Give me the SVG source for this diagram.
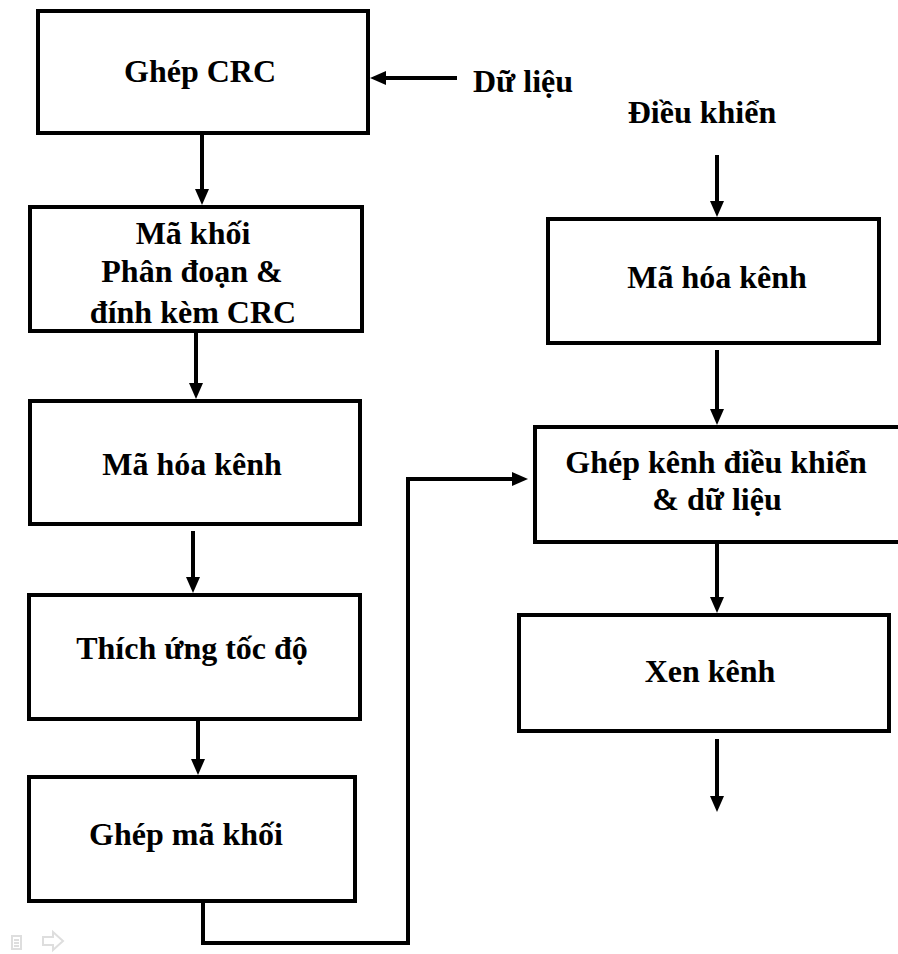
<svg xmlns="http://www.w3.org/2000/svg" width="898" height="954" viewBox="0 0 898 954">
  <defs>
    <marker id="head" markerUnits="userSpaceOnUse" markerWidth="17" markerHeight="14" refX="0" refY="7" orient="auto">
      <path d="M0,0 L16,7 L0,14 z" fill="#000"/>
    </marker>
    <style>
      .box { fill: #fff; stroke: #000; stroke-width: 4; }
      .lbl { font-family: "Liberation Serif", "Times New Roman", serif; font-weight: bold; font-size: 32px; fill: #000; text-anchor: middle; }
      .free { font-family: "Liberation Serif", "Times New Roman", serif; font-weight: bold; font-size: 32px; fill: #000; }
      .wire { fill: none; stroke: #000; stroke-width: 4; stroke-linejoin: miter; }
      .arrow { marker-end: url(#head); }
      .nav { fill: none; stroke: #dedede; stroke-width: 2; }
    </style>
  </defs>

  <rect width="898" height="954" fill="#fff"/>

  <!-- connectors -->
  <g id="connectors">
    <line class="wire arrow" x1="457" y1="78" x2="386" y2="78"/>
    <line class="wire arrow" x1="202" y1="135" x2="202" y2="189"/>
    <line class="wire arrow" x1="196" y1="333" x2="196" y2="383"/>
    <line class="wire arrow" x1="193" y1="531" x2="193" y2="577"/>
    <line class="wire arrow" x1="198" y1="713" x2="198" y2="759"/>
    <path class="wire arrow" d="M203,903 V943 H408 V479 H512"/>
    <line class="wire arrow" x1="717" y1="155" x2="717" y2="201"/>
    <line class="wire arrow" x1="717" y1="350" x2="717" y2="409"/>
    <line class="wire arrow" x1="717" y1="544" x2="717" y2="597"/>
    <line class="wire arrow" x1="717" y1="739" x2="717" y2="796"/>
  </g>

  <!-- left chain -->
  <g id="crc-attach">
    <rect class="box" x="38" y="11" width="330" height="122"/>
    <text class="lbl" x="200" y="82">Ghép CRC</text>
  </g>
  <g id="code-block-segment">
    <rect class="box" x="30" y="207" width="332" height="124"/>
    <text class="lbl" x="193" y="244">Mã khối</text>
    <text class="lbl" x="192" y="282">Phân đoạn &amp;</text>
    <text class="lbl" x="193" y="323">đính kèm CRC</text>
  </g>
  <g id="channel-coding-data">
    <rect class="box" x="30" y="401" width="330" height="123"/>
    <text class="lbl" x="192" y="475">Mã hóa kênh</text>
  </g>
  <g id="rate-matching">
    <rect class="box" x="29" y="595" width="331" height="124"/>
    <text class="lbl" x="192" y="659">Thích ứng tốc độ</text>
  </g>
  <g id="code-block-concat">
    <rect class="box" x="29" y="777" width="326" height="124"/>
    <text class="lbl" x="186" y="845">Ghép mã khối</text>
  </g>

  <!-- inputs -->
  <g id="data-input">
    <text class="free" x="473" y="92">Dữ liệu</text>
  </g>
  <g id="control-input">
    <text class="lbl" x="702" y="123">Điều khiển</text>
  </g>

  <!-- right chain -->
  <g id="channel-coding-control">
    <rect class="box" x="548" y="219" width="331" height="124"/>
    <text class="lbl" x="717" y="288">Mã hóa kênh</text>
  </g>
  <g id="control-data-mux">
    <rect class="box" x="535" y="427" width="380" height="115"/>
    <text class="lbl" x="716" y="473">Ghép kênh điều khiển</text>
    <text class="lbl" x="717" y="510">&amp; dữ liệu</text>
  </g>
  <g id="interleaving">
    <rect class="box" x="519" y="615" width="370" height="116"/>
    <text class="lbl" x="710" y="682">Xen kênh</text>
  </g>

  <!-- faint navigation icons, bottom left -->
  <g id="nav-icons">
    <path class="nav" d="M12,936 H21 V949 H12 Z M14,940 H19 M14,943 H19 M14,946 H19"/>
    <path class="nav" d="M43,937 H53 V932 L63,941 L53,950 V945 H43 Z"/>
  </g>
</svg>
